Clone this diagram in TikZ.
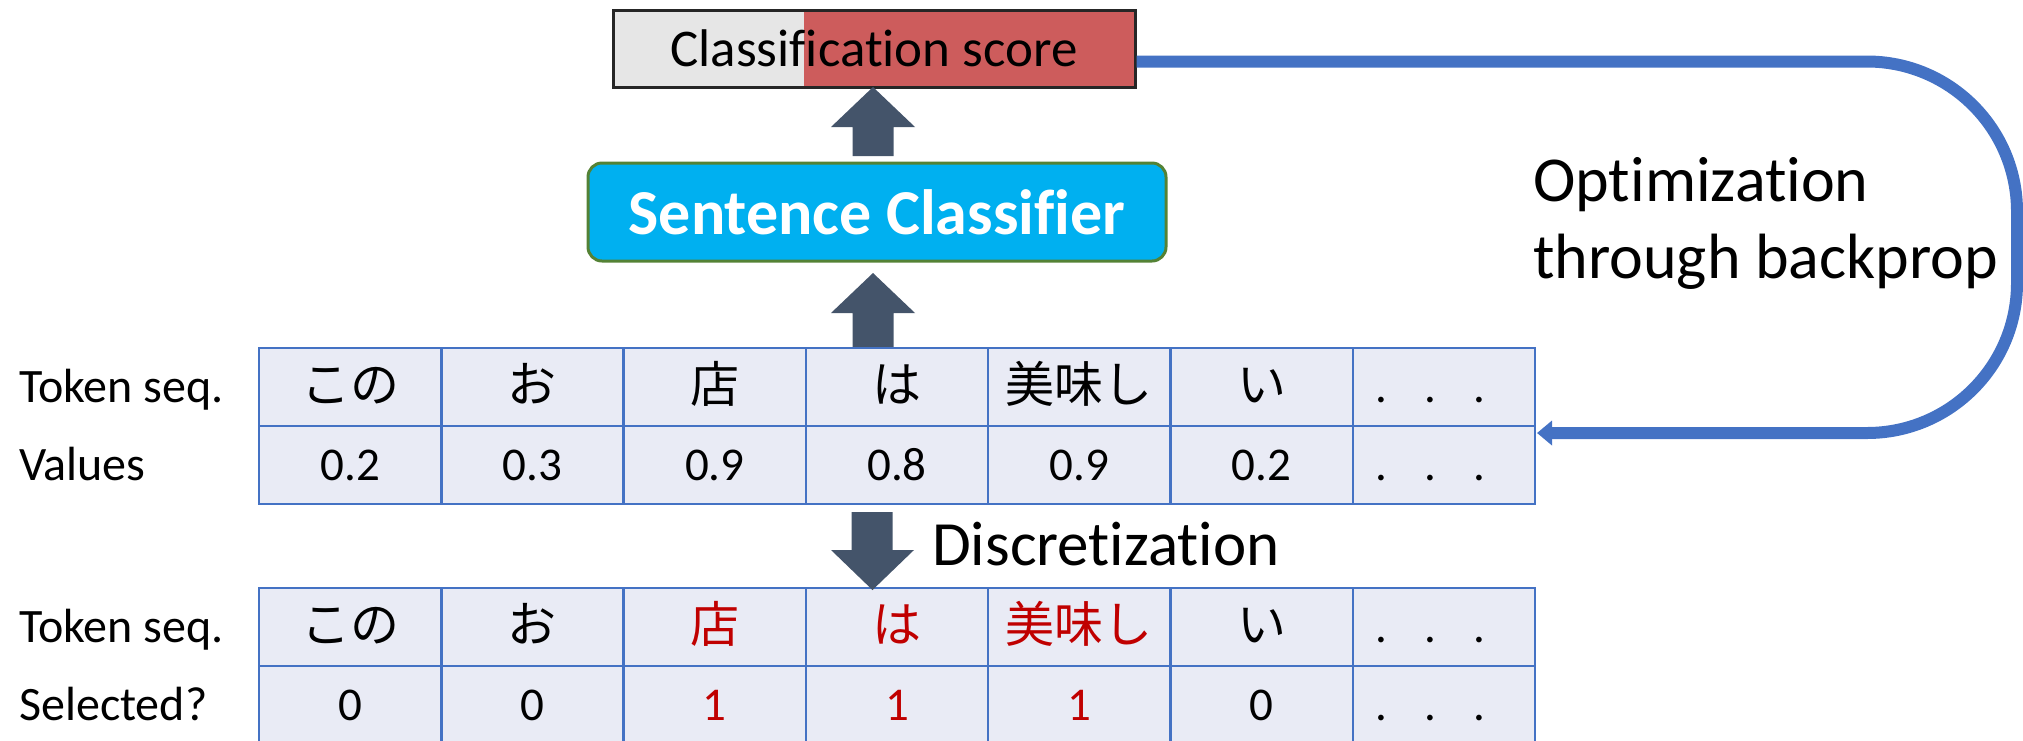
\documentclass[tikz,border=0pt]{standalone}
\usepackage{fontspec}
\setmainfont{Carlito}[Ligatures={NoCommon,NoContextual}]
\newfontfamily\jp{Noto Sans CJK JP}
\usetikzlibrary{arrows.meta}
\definecolor{grayfill}{HTML}{E6E6E6}
\definecolor{redfill}{RGB}{205,92,92}
\definecolor{clsblue}{HTML}{00B0F0}
\definecolor{clsgreen}{HTML}{548235}
\definecolor{arrowc}{HTML}{44546A}
\definecolor{tblfill}{HTML}{E9EBF5}
\definecolor{tblline}{HTML}{4472C4}
\definecolor{selred}{HTML}{C00000}
\begin{document}
\begin{tikzpicture}[x=1pt,y=-1pt,
  cell/.style={draw=tblline, fill=tblfill, line width=2.5pt, minimum width=182.3pt, minimum height=78pt, inner sep=0pt, font=\fontsize{47}{55}\selectfont, text height=30pt, text depth=0pt},
  rowlabel/.style={anchor=west, inner sep=0pt, font=\fontsize{48}{55}\selectfont, text height=30.7pt, text depth=0pt},
  jpt/.style={font=\fontsize{49}{55}\selectfont\jp},
  blockarrow/.style={fill=arrowc},
  clsbox/.style={draw=black!85, line width=3pt, fill=grayfill, minimum width=522pt, minimum height=77pt, inner sep=0pt, font=\fontsize{53}{62}\selectfont,
    path picture={\fill[redfill] ([xshift=191pt]path picture bounding box.south west) rectangle (path picture bounding box.north east);}},
  scbox/.style={draw=clsgreen, line width=3pt, fill=clsblue, rounded corners=14pt, minimum width=578pt, minimum height=98pt, inner sep=0pt, text=white, font=\fontsize{64}{75}\selectfont\bfseries},
  feedback/.style={draw=tblline, line width=12pt, rounded corners=150pt, -{Triangle[length=15pt,width=24pt]}},
  bigtext/.style={inner sep=0pt}
]
\useasboundingbox (0,0) rectangle (2023,740);

% classification score
\node[clsbox] (cls) at (874,48.5) {Classification score};
% sentence classifier
\node[scbox] (sc) at (877,212) {Sentence Classifier};

% block arrow classifier -> score
\fill[blockarrow] (873,87) -- (915,127) -- (893.5,127) -- (893.5,156) -- (852.5,156) -- (852.5,127) -- (831,127) -- cycle;
% block arrow table -> classifier
\fill[blockarrow] (873,273) -- (915,313) -- (893.5,313) -- (893.5,350) -- (852.5,350) -- (852.5,313) -- (831,313) -- cycle;

% top table
\node[rowlabel] (l1) at (19,387) {Token seq.};
\node[rowlabel] (l2) at (19,465) {Values};
\foreach \t [count=\i] in {この,お,店,は,美味し,い}
  \node[cell, jpt] (a\i) at ({259+182.3*(\i-0.5)},387) {\t};
\node[cell] (a7) at ({259+182.3*6.5},387) {\hspace{-26.8pt}.\hspace{37pt}.\hspace{37pt}.};
\foreach \t [count=\i] in {0.2,0.3,0.9,0.8,0.9,0.2}
  \node[cell] (b\i) at ({259+182.3*(\i-0.5)},465) {\t};
\node[cell] (b7) at ({259+182.3*6.5},465) {\hspace{-26.8pt}.\hspace{37pt}.\hspace{37pt}.};

% bottom table
\node[rowlabel] (l3) at (19,627) {Token seq.};
\node[rowlabel] (l4) at (19,705) {Selected?};
\foreach \t/\c [count=\i] in {この/black,お/black,店/selred,は/selred,美味し/selred,い/black}
  \node[cell, jpt, text=\c] (c\i) at ({259+182.3*(\i-0.5)},627) {\t};
\node[cell] (c7) at ({259+182.3*6.5},627) {\hspace{-26.8pt}.\hspace{37pt}.\hspace{37pt}.};
\foreach \t/\c [count=\i] in {0/black,0/black,1/selred,1/selred,1/selred,0/black}
  \node[cell, text=\c] (d\i) at ({259+182.3*(\i-0.5)},705) {\t};
\node[cell] (d7) at ({259+182.3*6.5},705) {\hspace{-26.8pt}.\hspace{37pt}.\hspace{37pt}.};

% discretization arrow
\fill[blockarrow] (851.5,512) -- (892.5,512) -- (892.5,550) -- (914,550) -- (872.5,590) -- (831,550) -- (851.5,550) -- cycle;
\node[bigtext, anchor=base west, font=\fontsize{63}{74}\selectfont] (disc) at (932,565) {Discretization};

% feedback loop
\coordinate (fbin) at (1537,433);
\draw[feedback] ([yshift=-13pt]cls.east) -- (2017,61.5) -- (2017,433) -- (fbin);
\node[bigtext, anchor=north west, align=left, font=\fontsize{64}{77}\selectfont] (opt) at (1533,157) {Optimization\\through backprop};
\end{tikzpicture}
\end{document}
